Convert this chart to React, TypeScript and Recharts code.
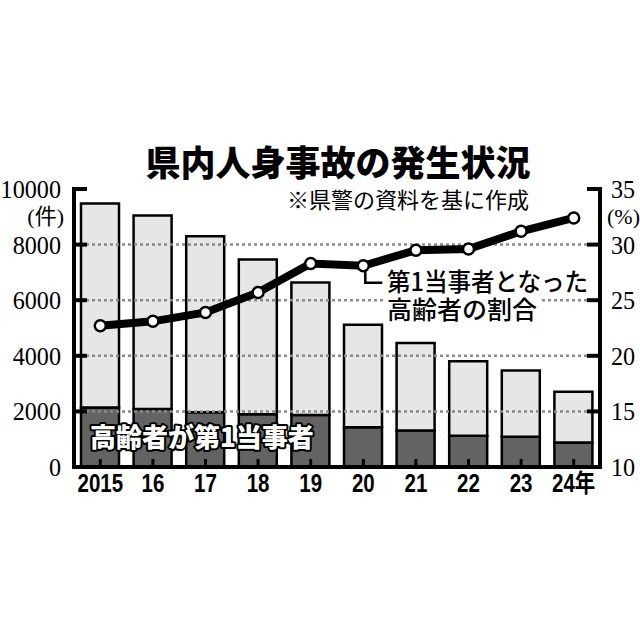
import React from "react";
import {
  ComposedChart,
  Bar,
  Line,
  XAxis,
  YAxis,
  ReferenceLine,
} from "recharts";

const years = ["2015", "16", "17", "18", "19", "20", "21", "22", "23", "24年"];
const totalAccidents = [9480, 9050, 8300, 7460, 6640, 5120, 4460, 3800, 3470, 2710];
const elderlyFirstParty = [2140, 2090, 1970, 1900, 1870, 1430, 1310, 1120, 1090, 880];
const elderlyRatio = [22.7, 23.1, 23.9, 25.7, 28.3, 28.1, 29.5, 29.6, 31.2, 32.4];

const leftTicks = [0, 2000, 4000, 6000, 8000, 10000];
const rightTicks = [10, 15, 20, 25, 30, 35];
const gridValues = [2000, 4000, 6000, 8000];

const title = "県内人身事故の発生状況";
const source = "※県警の資料を基に作成";
const lineLabel1 = "第1当事者となった";
const lineLabel2 = "高齢者の割合";
const barLabel = "高齢者が第1当事者";
const leftUnit = "(件)";
const rightUnit = "(%)";

const data = years.map((y, i) => ({
  year: y,
  elderly: elderlyFirstParty[i],
  others: totalAccidents[i] - elderlyFirstParty[i],
  ratio: elderlyRatio[i],
}));

const CJK = '"Noto Sans CJK JP", sans-serif';
const SERIF = '"Liberation Serif", "Noto Sans CJK JP", serif';
const SANS = '"Liberation Sans", "Noto Sans CJK JP", sans-serif';

const TM = 12;

const LeftTick = (props: any) => {
  const { x, y, payload } = props;
  const axisX = x + TM;
  const v = payload.value;
  return (
    <g>
      {v !== 0 && (
        <line x1={axisX} x2={axisX + 13} y1={y} y2={y} stroke="#000" strokeWidth={4} />
      )}
      <text
        transform={`translate(${x - 1},${y + 9}) scale(0.93,1)`}
        textAnchor="end"
        fontFamily={SERIF}
        fontSize={26}
        fill="#000"
      >
        {v}
      </text>
      {v === 10000 && (
        <text x={x + 2} y={y + 35} textAnchor="end" fontFamily={SERIF} fontSize={22} fill="#000">
          {leftUnit}
        </text>
      )}
    </g>
  );
};

const RightTick = (props: any) => {
  const { x, y, payload } = props;
  const axisX = x - TM;
  const v = payload.value;
  return (
    <g>
      {v !== 10 && (
        <line x1={axisX} x2={axisX - 13} y1={y} y2={y} stroke="#000" strokeWidth={4} />
      )}
      <text
        transform={`translate(${x - 1},${y + 9}) scale(0.93,1)`}
        textAnchor="start"
        fontFamily={SERIF}
        fontSize={26}
        fill="#000"
      >
        {v}
      </text>
      {v === 35 && (
        <text x={x - 5} y={y + 35} textAnchor="start" fontFamily={SERIF} fontSize={22} fill="#000">
          {rightUnit}
        </text>
      )}
    </g>
  );
};

const BottomTick = (props: any) => {
  const { x, y, payload } = props;
  const axisY = y - TM;
  return (
    <g>
      <line x1={x} x2={x} y1={axisY} y2={axisY - 8} stroke="#000" strokeWidth={3} />
      <text
        transform={`translate(${x},${axisY + 25}) scale(0.82,1)`}
        textAnchor="middle"
        fontFamily={SANS}
        fontWeight="bold"
        fontSize={25}
        fill="#000"
      >
        {payload.value}
      </text>
    </g>
  );
};

const RatioDot = (props: any) => {
  const { cx, cy, index } = props;
  return (
    <g key={`dot-${index}`}>
      {index === 5 && (
        <path
          d={`M${cx + 2},${cy + 5} L${cx + 2},${cy + 17} L${cx + 19},${cy + 17}`}
          fill="none"
          stroke="#000"
          strokeWidth={2.5}
        />
      )}
      <circle cx={cx} cy={cy} r={5.5} fill="#fff" stroke="#000" strokeWidth={2.5} />
    </g>
  );
};

export default function App() {
  return (
    <div style={{ position: "absolute", left: 0, top: 0, width: 640, height: 640, background: "#fff" }}>
      <ComposedChart
        width={640}
        height={640}
        data={data}
        margin={{ top: 189, right: 0, bottom: 0, left: 0 }}
        barSize={38}
      >
        <XAxis
          dataKey="year"
          xAxisId="x"
          height={173}
          tickSize={0}
          tickMargin={TM}
          interval={0}
          axisLine={{ stroke: "#000", strokeWidth: 4, strokeLinecap: "square" }}
          tickLine={false}
          tick={<BottomTick />}
        />
        <YAxis
          yAxisId="left"
          orientation="left"
          width={74}
          domain={[0, 10000]}
          ticks={leftTicks}
          tickSize={0}
          tickMargin={TM}
          interval={0}
          axisLine={{ stroke: "#000", strokeWidth: 4, strokeLinecap: "square" }}
          tickLine={false}
          tick={<LeftTick />}
        />
        <YAxis
          yAxisId="right"
          orientation="right"
          width={40}
          domain={[10, 35]}
          ticks={rightTicks}
          tickSize={0}
          tickMargin={TM}
          interval={0}
          axisLine={{ stroke: "#000", strokeWidth: 4, strokeLinecap: "square" }}
          tickLine={false}
          tick={<RightTick />}
        />
        <Bar
          dataKey="elderly"
          stackId="a"
          xAxisId="x"
          yAxisId="left"
          fill="#636363"
          stroke="#000"
          strokeWidth={2.5}
          isAnimationActive={false}
        />
        <Bar
          dataKey="others"
          stackId="a"
          xAxisId="x"
          yAxisId="left"
          fill="#e6e6e6"
          stroke="#000"
          strokeWidth={2.5}
          isAnimationActive={false}
        />
        {gridValues.map((v) => (
          <ReferenceLine
            key={v}
            y={v}
            xAxisId="x"
            yAxisId="left"
            stroke="#8a8a8a"
            strokeWidth={2.5}
            strokeDasharray="3 3"
          />
        ))}
        <Line
          dataKey="ratio"
          xAxisId="x"
          yAxisId="right"
          stroke="#000"
          strokeWidth={8}
          dot={<RatioDot />}
          activeDot={false}
          isAnimationActive={false}
        />
      </ComposedChart>
      <svg
        width={640}
        height={640}
        style={{ position: "absolute", left: 0, top: 0, pointerEvents: "none" }}
      >
        <text x={338} y={176} textAnchor="middle" fontFamily={CJK} fontWeight={900} fontSize={35} fill="#000">
          {title}
        </text>
        <text x={287} y={208} textAnchor="start" fontFamily={CJK} fontSize={22} fill="#000">
          {source}
        </text>
        <rect x={384} y={296} width={158} height={28} fill="#fff" />
        <text
          x={387}
          y={291}
          fontFamily={CJK}
          fontWeight={500}
          fontSize={25}
          fill="#000"
          textLength={201}
          lengthAdjust="spacingAndGlyphs"
        >
          {lineLabel1}
        </text>
        <text x={387} y={319} fontFamily={CJK} fontWeight={500} fontSize={25} fill="#000">
          {lineLabel2}
        </text>
        <text
          x={90}
          y={447}
          fontFamily={CJK}
          fontWeight={900}
          fontSize={26}
          fill="#fff"
          stroke="#000"
          strokeWidth={4}
          strokeLinejoin="round"
          paintOrder="stroke"
        >
          {barLabel}
        </text>
      </svg>
    </div>
  );
}
